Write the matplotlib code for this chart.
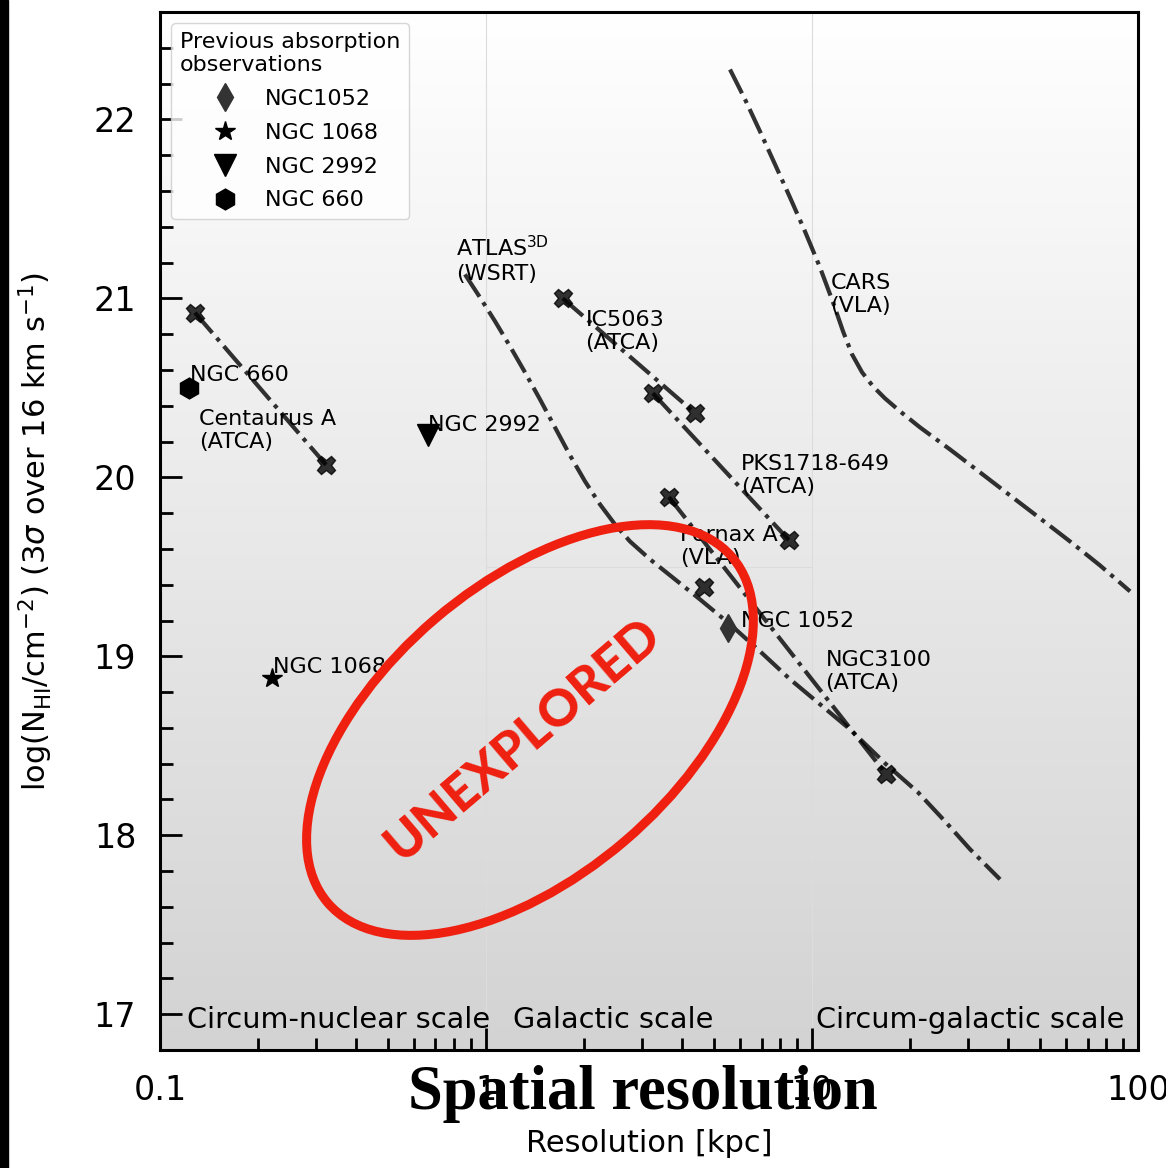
import numpy as np
import matplotlib
matplotlib.use("Agg")
from matplotlib import pyplot as plt
from matplotlib import ticker, transforms
from matplotlib.colors import LinearSegmentedColormap
from matplotlib.patches import Ellipse, Rectangle

# HI absorption sensitivity vs spatial resolution
# resolution in kpc, log N_HI (3 sigma over 16 km/s)
cena_res = [0.128, 0.323]
cena_nhi = [20.92, 20.07]

ic5063_res = [1.72, 4.37]
ic5063_nhi = [21.00, 20.36]

pks_res = [3.25, 8.49]
pks_nhi = [20.47, 19.65]

fornax_res = [3.64, 16.9]
fornax_nhi = [19.89, 18.34]

ngc3100_res = [4.67]
ngc3100_nhi = [19.385]

atlas_res = [0.862, 0.958, 1.066, 1.185, 1.317, 1.464, 1.628, 1.810, 2.012, 2.237, 2.487,
             2.765, 3.185, 3.801, 4.533, 5.604, 6.926, 8.561, 10.58, 13.08, 16.87, 21.14,
             25.59, 30.53, 37.73]
atlas_nhi = [21.134, 21.006, 20.872, 20.732, 20.587, 20.436, 20.279, 20.123, 19.978, 19.849,
             19.737, 19.642, 19.542, 19.430, 19.318, 19.179, 19.028, 18.872, 18.732, 18.592,
             18.397, 18.240, 18.078, 17.922, 17.754]

cars_res = [5.604, 6.231, 6.926, 7.700, 8.561, 9.517, 10.58, 11.60, 12.45, 13.27, 14.24,
            15.39, 16.75, 18.62, 21.45, 26.50, 32.75, 40.50, 50.05, 61.86, 76.44, 94.52]
cars_nhi = [22.279, 22.112, 21.933, 21.749, 21.564, 21.374, 21.173, 20.978, 20.816, 20.687,
            20.587, 20.508, 20.441, 20.369, 20.279, 20.156, 20.028, 19.899, 19.771, 19.642,
            19.508, 19.363]

# previous absorption observations
prev_names = ["NGC1052", "NGC 1068", "NGC 2992", "NGC 660"]
prev_res = [5.52, 0.221, 0.664, 0.123]
prev_nhi = [19.16, 18.88, 20.235, 20.50]
prev_markers = ["d", "*", "v", "h"]
prev_colors = ["#333333", "k", "k", "k"]
prev_sizes = [14, 15, 16, 15]

scale_names = ["Circum-nuclear scale", "Galactic scale", "Circum-galactic scale"]
scale_x = [0.121, 1.21, 10.3]

red = "#ef2010"

fig = plt.figure(figsize=(11.66, 11.68), dpi=100)
ax = fig.add_axes([0.1372, 0.101, 0.8388, 0.8887])
ax.set_xscale("log")

# background gradient
cmap = LinearSegmentedColormap.from_list("bg", ["#ffffff", "#d3d3d3"])
ax.imshow(np.linspace(0, 1, 256).reshape(-1, 1), cmap=cmap, extent=[0, 1, 0, 1],
          transform=ax.transAxes, aspect="auto", zorder=0)

for xv in [1, 10]:
    ax.axvline(xv, color="#dcdcdc", lw=0.8, zorder=0.5)
ax.hlines(19.5, 1, 10, color="#dcdcdc", lw=0.8, zorder=0.5)

line_kw = dict(color="k", alpha=0.8, lw=3, ls="-.", zorder=3)
mark_kw = dict(color="k", alpha=0.8, marker="X", ms=13, ls="none", zorder=3)

for res, nhi in [(cena_res, cena_nhi), (ic5063_res, ic5063_nhi), (pks_res, pks_nhi),
                 (fornax_res, fornax_nhi)]:
    ax.plot(res, nhi, **line_kw)
    ax.plot(res, nhi, **mark_kw)
ax.plot(ngc3100_res, ngc3100_nhi, **mark_kw)
ax.plot(atlas_res, atlas_nhi, **line_kw)
ax.plot(cars_res, cars_nhi, **line_kw)

for name, r, n, m, c, s in zip(prev_names, prev_res, prev_nhi, prev_markers, prev_colors, prev_sizes):
    ax.plot([r], [n], marker=m, color=c, ms=s, ls="none", label=name, zorder=4)

# labels
fs = 16
ax.text(0.1236, 20.57, "NGC 660", fontsize=fs, va="center")
ax.text(0.1317, 20.263, "Centaurus A\n(ATCA)", fontsize=fs, va="center")
ax.text(0.664, 20.29, "NGC 2992", fontsize=fs, va="center")
ax.text(0.222, 18.94, "NGC 1068", fontsize=fs, va="center")
ax.text(0.811, 21.218, "ATLAS$^{\\rm 3D}$\n(WSRT)", fontsize=fs, va="center")
ax.text(2.02, 20.816, "IC5063\n(ATCA)", fontsize=fs, va="center")
ax.text(11.4, 21.022, "CARS\n(VLA)", fontsize=fs, va="center")
ax.text(6.06, 20.011, "PKS1718-649\n(ATCA)", fontsize=fs, va="center")
ax.text(3.94, 19.615, "Fornax A\n(VLA)", fontsize=fs, va="center")
ax.text(6.06, 19.196, "NGC 1052", fontsize=fs, va="center")
ax.text(11.0, 18.916, "NGC3100\n(ATCA)", fontsize=fs, va="center")

for name, xv in zip(scale_names, scale_x):
    ax.text(xv, 16.97, name, fontsize=20.7, va="center")

# unexplored region
trans = fig.dpi_scale_trans + transforms.ScaledTranslation(0.3783, 0.3083, ax.transAxes)
ax.add_patch(Ellipse((0, 0), 5.32, 2.92, angle=40.5, transform=trans, fill=False,
                     ec=red, lw=6.5, zorder=6))
ax.text(0.371, 0.2987, "UNEXPLORED", transform=ax.transAxes, rotation=40.5,
        rotation_mode="anchor", ha="center", va="center", color=red,
        fontsize=37, family="Lato", fontweight=900, zorder=6)

ax.set_xlim(0.1, 100)
ax.set_ylim(16.8, 22.6)
ax.yaxis.set_major_locator(ticker.MultipleLocator(1))
ax.yaxis.set_minor_locator(ticker.MultipleLocator(0.2))
ax.xaxis.set_major_formatter(ticker.FuncFormatter(lambda v, _: f"{v:g}"))
ax.tick_params(which="both", direction="in", width=2, labelsize=24, pad=17,
               top=False, right=False)
ax.tick_params(which="major", length=16)
ax.tick_params(which="minor", length=9)
for sp in ax.spines.values():
    sp.set_linewidth(2.2)

ax.set_ylabel("log(N$_{\\rm HI}$/cm$^{-2}$) (3$\\sigma$ over 16 km s$^{-1}$)", fontsize=22)
ax.yaxis.set_label_coords(-0.107, 0.5)
ax.set_xlabel("Resolution [kpc]", fontsize=22)
ax.xaxis.set_label_coords(0.5, -0.076)

leg = ax.legend(title="Previous absorption\nobservations", fontsize=16, title_fontsize=16,
                loc="upper left", labelspacing=0.62)
leg.set_zorder(7)

fig.text(0.551, 0.063, "Spatial resolution", fontsize=45, family="Liberation Serif",
         fontweight="bold", ha="center", va="center")

fig.add_artist(Rectangle((0, 0), 8 / 1166, 1, transform=fig.transFigure, color="k"))

fig.savefig("out.png", dpi=100)
